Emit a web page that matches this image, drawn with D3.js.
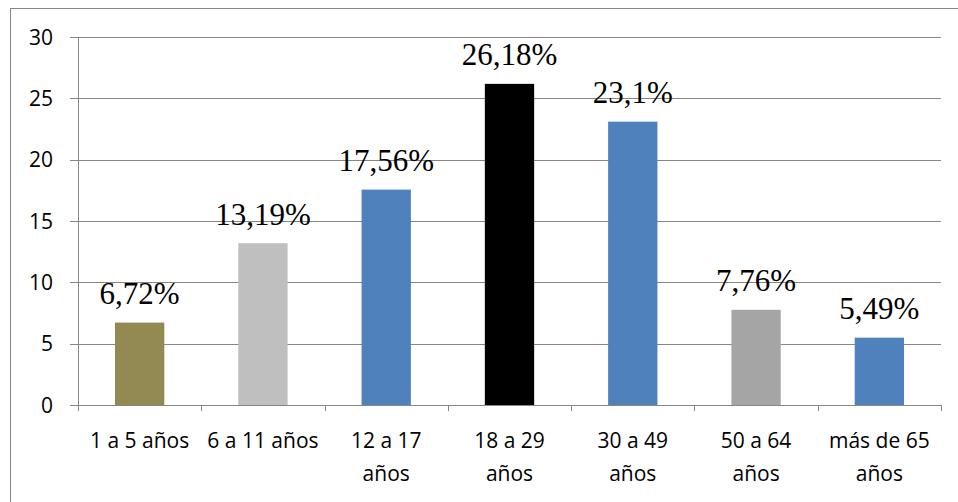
<!DOCTYPE html>
<html><head><meta charset="utf-8">
<script src="https://cdn.jsdelivr.net/npm/d3@7"></script>
<style>body{margin:0;background:#fff}svg{display:block}
.sans{font-family:"Open Sans","Liberation Sans",sans-serif}
.serif{font-family:"Liberation Serif","DejaVu Serif",serif}</style>
</head><body>
<svg id="c" width="958" height="502"></svg>
<script>
const categories = [["1 a 5 años"],["6 a 11 años"],["12 a 17","años"],["18 a 29","años"],["30 a 49","años"],["50 a 64","años"],["más de 65","años"]];
const values = [6.72, 13.19, 17.56, 26.18, 23.1, 7.76, 5.49];
const labels = ["6,72%","13,19%","17,56%","26,18%","23,1%","7,76%","5,49%"];
const colors = ["#938953","#bfbfbf","#4f81bd","#000000","#4f81bd","#a5a5a5","#4f81bd"];
const yTicks = [0,5,10,15,20,25,30];

const svg = d3.select("#c");
svg.append("rect").attr("x",10.5).attr("y",8.5).attr("width",960).attr("height",510)
  .attr("fill","none").attr("stroke","#868686").attr("stroke-width",1);

const L=78, R=941, T=37, B=405;
const x = d3.scaleBand().domain(d3.range(values.length)).range([L,R]).paddingInner(0.6).paddingOuter(0.3);
const y = d3.scaleLinear().domain([0,30]).range([B,T]);

svg.append("g").selectAll("line").data(yTicks).join("line")
  .attr("x1",L-8).attr("x2",R).attr("y1",d=>Math.round(y(d))+0.5).attr("y2",d=>Math.round(y(d))+0.5)
  .attr("stroke","#868686").attr("stroke-width",1);
svg.append("line").attr("x1",L+0.5).attr("x2",L+0.5).attr("y1",T).attr("y2",B).attr("stroke","#868686");
svg.append("g").attr("class","sans").selectAll("text").data(yTicks).join("text")
  .attr("x",53).attr("y",d=>y(d)+7.5).attr("text-anchor","end")
  .style("font-size","21px").attr("fill","#000").text(d=>d);

svg.append("g").selectAll("rect").data(values).join("rect")
  .attr("x",(d,i)=>x(i)).attr("width",x.bandwidth())
  .attr("y",d=>y(d)).attr("height",d=>B-y(d)).attr("fill",(d,i)=>colors[i]);

const step = (R-L)/values.length;
svg.append("g").selectAll("line").data(d3.range(values.length+1)).join("line")
  .attr("x1",i=>Math.round(L+i*step)+0.5).attr("x2",i=>Math.round(L+i*step)+0.5)
  .attr("y1",B).attr("y2",B+6).attr("stroke","#868686");

svg.append("g").attr("class","serif").selectAll("text").data(values).join("text")
  .attr("x",(d,i)=>x(i)+x.bandwidth()/2).attr("y",d=>y(d)-18.5)
  .attr("text-anchor","middle").style("font-size","31px").attr("fill","#000").text((d,i)=>labels[i]);

const cg = svg.append("g").attr("class","sans").style("font-size","21px").attr("fill","#000");
categories.forEach((lines,i)=>{
  const cx = L+(i+0.5)*step;
  const t = cg.append("text").attr("text-anchor","middle").attr("x",cx).attr("y",448);
  lines.forEach((ln,j)=>t.append("tspan").attr("x",cx).attr("dy",j?33:0).text(ln));
});
</script>
</body></html>
